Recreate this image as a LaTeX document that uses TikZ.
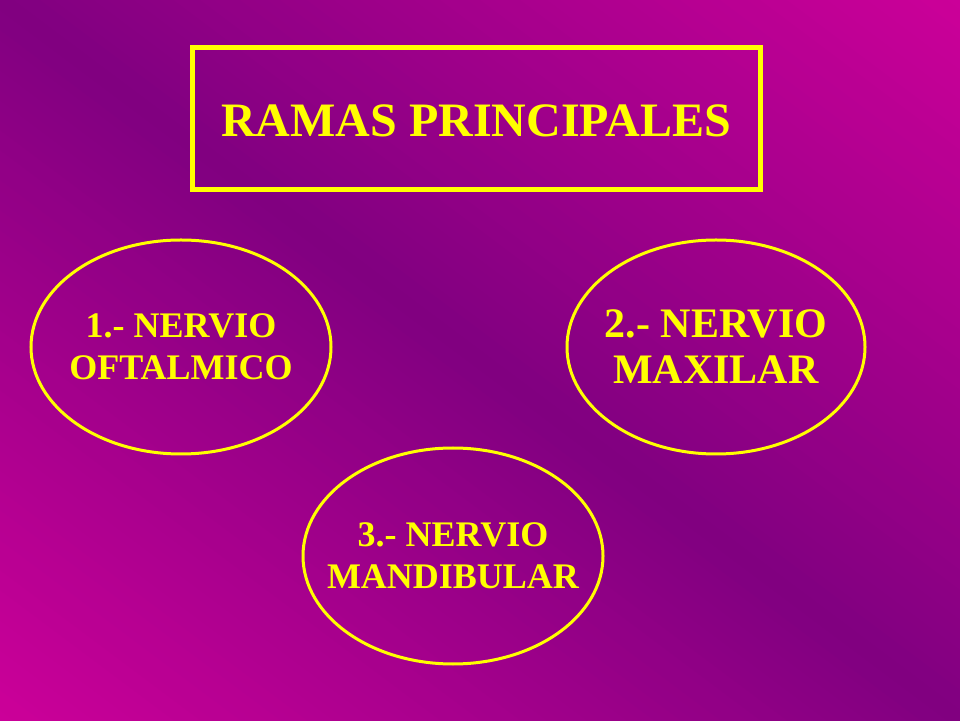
\documentclass[tikz,border=0pt]{standalone}
\usepackage{fontspec}
\setmainfont{Liberation Serif}
\usetikzlibrary{shapes.geometric}
\definecolor{pur}{HTML}{800080}
\definecolor{mag}{HTML}{CC0099}
\definecolor{yel}{HTML}{FFFF00}
\begin{document}
\begin{tikzpicture}[x=1pt,y=1pt,
  framebox/.style={draw=yel, line width=5pt, inner sep=0pt, minimum width=568pt, minimum height=142pt},
  oval/.style={ellipse, draw=yel, line width=3pt, inner sep=0pt},
  titletext/.style={text=yel, inner sep=0pt, font=\fontsize{48}{58}\selectfont\bfseries},
  smalltext/.style={text=yel, inner sep=0pt, align=center, font=\fontsize{36}{42}\selectfont\bfseries},
  bigtext/.style={text=yel, inner sep=0pt, align=center, font=\fontsize{42}{46}\selectfont\bfseries}]
\useasboundingbox (0,0) rectangle (960,720);
\begin{scope}
  \clip (0,0) rectangle (960,720);
  \foreach \k in {0,...,145} {
    \pgfmathsetmacro\sa{-584+8*\k}
    \pgfmathsetmacro\sb{\sa+9}
    \pgfmathtruncatemacro\t{min(100,round(abs(\sa+4)/576*100))}
    \fill[mag!\t!pur, shift={(480,360)}, rotate=53.13] (\sa,-700) -- (\sb,-700) -- (\sb,700) -- (\sa,700) -- cycle;
  }
\end{scope}
\node[framebox] (box) at (476,601) {};
\node[titletext] (title) at (476,599.5) {RAMAS PRINCIPALES};
\node[oval, minimum width=300pt, minimum height=214pt] (e1) at (181,373) {};
\node[smalltext] (t1) at (e1.center) {1.- NERVIO\\OFTALMICO};
\node[oval, minimum width=298pt, minimum height=214pt] (e2) at (716,373) {};
\node[bigtext] (t2) at (e2.center) {2.- NERVIO\\MAXILAR};
\node[oval, minimum width=300pt, minimum height=216pt] (e3) at (453,164) {};
\node[smalltext] (t3) at (e3.center) {3.- NERVIO\\MANDIBULAR};
\end{tikzpicture}
\end{document}
